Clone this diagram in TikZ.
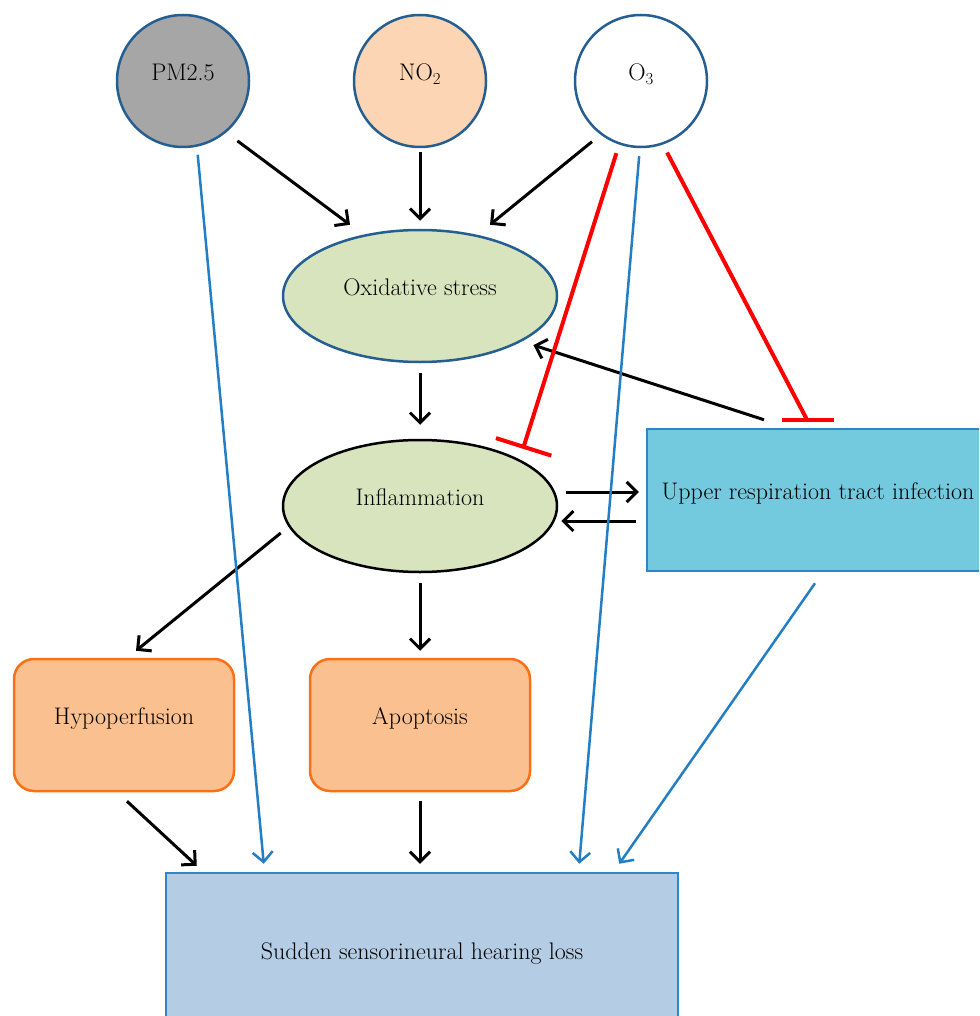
\documentclass[tikz,border=0pt]{standalone}
\usepackage{tikz}
\usetikzlibrary{arrows.meta, shapes.geometric, positioning, calc}

\definecolor{edgeblue}{RGB}{37,94,145}
\definecolor{pmgray}{RGB}{166,166,166}
\definecolor{nopeach}{RGB}{252,213,180}
\definecolor{stressgreen}{RGB}{215,228,189}
\definecolor{urticyan}{RGB}{115,201,221}
\definecolor{boxblue}{RGB}{46,134,200}
\definecolor{cellorange}{RGB}{250,192,144}
\definecolor{cellborder}{RGB}{250,112,20}
\definecolor{lossblue}{RGB}{180,205,228}
\definecolor{linkblue}{RGB}{36,126,196}

\begin{document}
\begin{tikzpicture}[x=1pt, y=-1pt,
    txt/.style={font=\fontsize{24}{28}\selectfont, text depth=18pt},
    gas/.style={txt, circle, draw=edgeblue, line width=2.5pt, minimum size=132pt, inner sep=0pt},
    state/.style={txt, ellipse, fill=stressgreen, line width=2.5pt, minimum width=274pt, minimum height=132pt},
    cell/.style={txt, rounded corners=20pt, draw=cellborder, fill=cellorange, line width=2.5pt, minimum width=220pt, minimum height=132pt},
    outcome/.style={txt, draw=boxblue, line width=2.5pt},
    arr/.style={line width=3pt, -{Straight Barb[length=10pt,width=20pt]}},
    link/.style={linkblue, line width=2.5pt, -{Straight Barb[length=10pt,width=20pt]}},
    inhib/.style={red, line width=4pt}]
  \useasboundingbox (0,0) rectangle (979,1016);
  \clip (0,0) rectangle (979,1016);

  % pollutants
  \node[gas, fill=pmgray] (pm) at (183,81) {PM2.5};
  \node[gas, fill=nopeach] (no) at (420,81) {NO\textsubscript{2}};
  \node[gas, fill=white] (o3) at (641,81) {O\textsubscript{3}};

  \node[state, draw=edgeblue] (ox) at (420,296) {Oxidative stress};
  \node[state, draw=black] (infl) at (420,506) {Inflammation};
  \node[outcome, fill=urticyan, minimum width=342pt, minimum height=142pt] (urti) at (818,500) {Upper respiration tract infection};

  \node[cell] (hypo) at (124,725) {Hypoperfusion};
  \node[cell] (apo) at (420,725) {Apoptosis};
  \node[outcome, fill=lossblue, minimum width=512pt, minimum height=174pt] (loss) at (422,960) {Sudden sensorineural hearing loss};

  % black arrows
  \draw[arr, shorten <=14pt] (pm.-50) -- ([xshift=-70pt,yshift=4pt]ox.north);
  \draw[arr, shorten <=4pt] (no.south) -- ([yshift=8pt]ox.north);
  \draw[arr, shorten <=11pt] (o3.-127) -- ([xshift=70pt,yshift=4pt]ox.north);
  \draw[arr] ([yshift=-10pt]ox.south) -- ([yshift=14pt]infl.north);
  \draw[arr, shorten >=12pt] ([xshift=-54pt,yshift=8pt]urti.north) -- (ox.-24);
  \draw[arr] ([xshift=8pt,yshift=14pt]infl.east) -- ([xshift=-7pt,yshift=8pt]urti.west);
  \draw[arr] ([xshift=-10pt,yshift=-21pt]urti.west) -- ([xshift=3pt,yshift=-15pt]infl.east);
  \draw[arr] ([xshift=-1pt,yshift=-27pt]infl.west) -- ([xshift=12pt,yshift=7pt]hypo.north);
  \draw[arr] ([yshift=-10pt]infl.south) -- ([yshift=7pt]apo.north);
  \draw[arr] ([xshift=3pt,yshift=-9pt]hypo.south) -- ([xshift=32pt,yshift=6pt]loss.north west);
  \draw[arr, shorten >=8pt] ([yshift=-9pt]apo.south) -- (apo.south |- loss.north);

  % blue arrows
  \draw[link, shorten <=8pt] (pm.-78) -- ([xshift=99pt,yshift=8pt]loss.north west);
  \draw[link, shorten <=8pt] (o3.-91) -- ([xshift=-100pt,yshift=8pt]loss.north east);
  \draw[link] ([xshift=-3pt,yshift=-11pt]urti.south) -- ([xshift=-60pt,yshift=8pt]loss.north east);

  % inhibition
  \draw[inhib, shorten <=9pt, -{Bar[width=58pt]}] (o3.-109) -- ([xshift=103pt,yshift=-10pt]infl.north);
  \coordinate (stop) at ([xshift=-11pt,yshift=8pt]urti.north);
  \draw[inhib, shorten <=9pt] (o3.-71) -- (stop);
  \draw[inhib] ([xshift=-25pt]stop) -- ([xshift=27pt]stop);
\end{tikzpicture}
\end{document}
